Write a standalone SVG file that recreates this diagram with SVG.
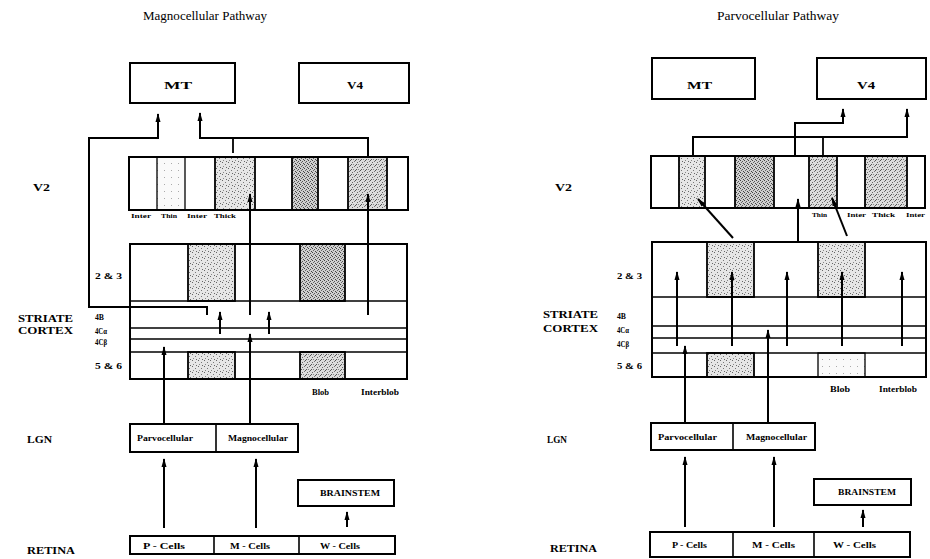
<svg xmlns="http://www.w3.org/2000/svg" width="930" height="559" viewBox="0 0 930 559">
<defs>
<style>
.box{fill:#fff;stroke:#000;stroke-width:2}
.ln{fill:none;stroke:#000;stroke-width:1.6}
.ar{fill:none;stroke:#000;stroke-width:2;marker-end:url(#ah)}
.con{fill:none;stroke:#000;stroke-width:1.8}
.t{font-family:"Liberation Serif","Times New Roman",serif;fill:#000}
.title{font-size:13.5px}
.big{font-size:10.5px;font-weight:bold}
.sm{font-size:8px;font-weight:bold}
.xs{font-size:7px;font-weight:bold}
.bx{font-size:10.5px;font-weight:bold}
.lab{font-size:8px;font-weight:bold}
.light{fill:url(#dotL);stroke:#000;stroke-width:1.8}
.dark{fill:url(#dotD);stroke:#000;stroke-width:1.8}
.med{fill:url(#dotM);stroke:#000;stroke-width:1.8}
.faint{fill:url(#dotF);stroke:#000;stroke-width:1.3}
</style>
<pattern id="dotL" width="6" height="6" patternUnits="userSpaceOnUse">
<rect width="6" height="6" fill="#e6e6e6"/>
<rect x="0" y="0" width="1" height="1" fill="#666"/>
<rect x="3" y="2" width="1" height="1" fill="#777"/>
<rect x="1" y="4" width="1" height="1" fill="#888"/>
<rect x="4" y="5" width="1" height="1" fill="#666"/>
</pattern>
<pattern id="dotM" width="5" height="5" patternUnits="userSpaceOnUse">
<rect width="5" height="5" fill="#dcdcdc"/>
<rect x="0" y="0" width="1" height="1" fill="#555"/>
<rect x="2" y="2" width="1" height="1" fill="#666"/>
<rect x="4" y="1" width="1" height="1" fill="#777"/>
<rect x="1" y="4" width="1" height="1" fill="#555"/>
<rect x="3" y="4" width="1" height="1" fill="#888"/>
</pattern>
<pattern id="dotD" width="4" height="4" patternUnits="userSpaceOnUse">
<rect width="4" height="4" fill="#cfcfcf"/>
<rect x="0" y="0" width="1" height="1" fill="#444"/>
<rect x="2" y="1" width="1" height="1" fill="#555"/>
<rect x="1" y="2" width="1" height="1" fill="#666"/>
<rect x="3" y="3" width="1" height="1" fill="#444"/>
</pattern>
<pattern id="dotF" width="7" height="7" patternUnits="userSpaceOnUse">
<rect width="7" height="7" fill="#fafafa"/>
<rect x="3" y="2" width="1" height="1" fill="#aaa"/>
</pattern>
<marker id="ah" markerUnits="userSpaceOnUse" markerWidth="9" markerHeight="6" refX="8" refY="3" orient="auto">
<path d="M0,0.5 L9,3 L0,5.5 z" fill="#000"/>
</marker>
</defs>
<rect width="930" height="559" fill="#fff"/>

<!-- ================= LEFT: Magnocellular ================= -->
<g id="title-magno"><text class="t title" x="143" y="20" textLength="124" lengthAdjust="spacingAndGlyphs">Magnocellular Pathway</text></g>

<g id="row-labels-left">
<text class="t big" x="33" y="191" textLength="17" lengthAdjust="spacingAndGlyphs">V2</text>
<text class="t big" x="18" y="322" textLength="55" lengthAdjust="spacingAndGlyphs">STRIATE</text>
<text class="t big" x="18" y="334" textLength="55" lengthAdjust="spacingAndGlyphs">CORTEX</text>
<text class="t big" x="27" y="443" textLength="25" lengthAdjust="spacingAndGlyphs">LGN</text>
<text class="t big" x="27" y="554" textLength="48" lengthAdjust="spacingAndGlyphs">RETINA</text>
</g>

<g id="L-MT"><rect class="box" x="130" y="63" width="105" height="40"/><text class="t bx" x="164" y="89" textLength="28" lengthAdjust="spacingAndGlyphs">MT</text></g>
<g id="L-V4"><rect class="box" x="299" y="63" width="110" height="40"/><text class="t bx" x="347" y="89" textLength="16" lengthAdjust="spacingAndGlyphs">V4</text></g>

<g id="L-V2">
<rect class="box" x="129" y="157" width="279" height="53"/>
<rect class="faint" x="157" y="157" width="28" height="53"/>
<rect class="light" x="215" y="157" width="40" height="53"/>
<rect class="dark" x="292" y="157" width="26" height="53"/>
<rect class="med" x="348" y="157" width="39" height="53"/>
<rect x="129" y="157" width="279" height="53" fill="none" stroke="#000" stroke-width="2"/>
<text class="t xs" x="131" y="218" textLength="20" lengthAdjust="spacingAndGlyphs">Inter</text>
<text class="t xs" x="161" y="218" textLength="16" lengthAdjust="spacingAndGlyphs">Thin</text>
<text class="t xs" x="187" y="218" textLength="20" lengthAdjust="spacingAndGlyphs">Inter</text>
<text class="t xs" x="214" y="218" textLength="22" lengthAdjust="spacingAndGlyphs">Thick</text>
</g>

<g id="L-striate">
<rect class="box" x="130" y="244" width="277" height="135"/>
<rect class="light" x="188" y="244" width="47" height="57" stroke-width="2.2"/>
<rect class="dark" x="300" y="244" width="45" height="57" stroke-width="2.2"/>
<rect class="light" x="188" y="352" width="47" height="27"/>
<rect class="med" x="300" y="352" width="45" height="27"/>
<line class="ln" x1="130" y1="301" x2="407" y2="301"/>
<line class="ln" x1="130" y1="328" x2="407" y2="328"/>
<line class="ln" x1="130" y1="339" x2="407" y2="339"/>
<line class="ln" x1="130" y1="352" x2="407" y2="352"/>
<rect x="130" y="244" width="277" height="135" fill="none" stroke="#000" stroke-width="2"/>
<text class="t sm" x="95" y="279" textLength="27" lengthAdjust="spacingAndGlyphs">2 &amp; 3</text>
<text class="t sm" x="95" y="320" textLength="9" lengthAdjust="spacingAndGlyphs">4B</text>
<text class="t sm" x="95" y="334" textLength="12" lengthAdjust="spacingAndGlyphs">4Cα</text>
<text class="t sm" x="95" y="345" textLength="12" lengthAdjust="spacingAndGlyphs">4Cβ</text>
<text class="t sm" x="95" y="369" textLength="27" lengthAdjust="spacingAndGlyphs">5 &amp; 6</text>
<text class="t sm" x="312" y="395" textLength="17" lengthAdjust="spacingAndGlyphs">Blob</text>
<text class="t sm" x="361" y="395" textLength="38" lengthAdjust="spacingAndGlyphs">Interblob</text>
</g>

<g id="L-LGN">
<rect class="box" x="130" y="424" width="168" height="28"/>
<line class="ln" x1="216" y1="424" x2="216" y2="452"/>
<text class="t sm" x="137" y="441" textLength="56" lengthAdjust="spacingAndGlyphs">Parvocellular</text>
<text class="t sm" x="228" y="441" textLength="60" lengthAdjust="spacingAndGlyphs">Magnocellular</text>
</g>

<g id="L-brainstem"><rect class="box" x="298" y="480" width="96" height="26"/><text class="t lab" x="320" y="496" textLength="60" lengthAdjust="spacingAndGlyphs">BRAINSTEM</text></g>

<g id="L-retina">
<rect class="box" x="130" y="536" width="265" height="18"/>
<line class="ln" x1="214" y1="536" x2="214" y2="554"/>
<line class="ln" x1="299" y1="536" x2="299" y2="554"/>
<text class="t lab" x="143" y="549" textLength="42" lengthAdjust="spacingAndGlyphs">P - Cells</text>
<text class="t lab" x="230" y="549" textLength="40" lengthAdjust="spacingAndGlyphs">M - Cells</text>
<text class="t lab" x="320" y="549" textLength="40" lengthAdjust="spacingAndGlyphs">W - Cells</text>
</g>

<!-- ================= RIGHT: Parvocellular ================= -->
<g id="title-parvo"><text class="t title" x="717" y="20" textLength="122" lengthAdjust="spacingAndGlyphs">Parvocellular Pathway</text></g>

<g id="row-labels-right">
<text class="t big" x="555" y="191" textLength="17" lengthAdjust="spacingAndGlyphs">V2</text>
<text class="t big" x="543" y="318" textLength="55" lengthAdjust="spacingAndGlyphs">STRIATE</text>
<text class="t big" x="543" y="332" textLength="55" lengthAdjust="spacingAndGlyphs">CORTEX</text>
<text class="t big" x="547" y="443" textLength="20" lengthAdjust="spacingAndGlyphs">LGN</text>
<text class="t big" x="550" y="552" textLength="47" lengthAdjust="spacingAndGlyphs">RETINA</text>
</g>

<g id="R-MT"><rect class="box" x="652" y="58" width="103" height="41"/><text class="t bx" x="687" y="89" textLength="25" lengthAdjust="spacingAndGlyphs">MT</text></g>
<g id="R-V4"><rect class="box" x="817" y="58" width="109" height="41"/><text class="t bx" x="857" y="89" textLength="18" lengthAdjust="spacingAndGlyphs">V4</text></g>

<g id="R-V2">
<rect class="box" x="651" y="156" width="274" height="52"/>
<rect class="light" x="679" y="156" width="26" height="52"/>
<rect class="dark" x="735" y="156" width="39" height="52"/>
<rect class="med" x="809" y="156" width="28" height="52"/>
<rect class="med" x="865" y="156" width="42" height="52"/>
<rect x="651" y="156" width="274" height="52" fill="none" stroke="#000" stroke-width="2"/>
<text class="t xs" x="812" y="217" textLength="15" lengthAdjust="spacingAndGlyphs">Thin</text>
<text class="t xs" x="847" y="217" textLength="19" lengthAdjust="spacingAndGlyphs">Inter</text>
<text class="t xs" x="872" y="217" textLength="23" lengthAdjust="spacingAndGlyphs">Thick</text>
<text class="t xs" x="906" y="217" textLength="19" lengthAdjust="spacingAndGlyphs">Inter</text>
</g>

<g id="R-striate">
<rect class="box" x="652" y="242" width="274" height="135"/>
<rect class="light" x="707" y="242" width="47" height="55" stroke-width="2.2"/>
<rect class="light" x="818" y="242" width="47" height="55" stroke-width="2.2"/>
<rect class="light" x="707" y="353" width="47" height="24"/>
<rect class="faint" x="818" y="353" width="47" height="24" stroke-width="1.8"/>
<line class="ln" x1="652" y1="297" x2="926" y2="297"/>
<line class="ln" x1="652" y1="326" x2="926" y2="326"/>
<line class="ln" x1="652" y1="338" x2="926" y2="338"/>
<line class="ln" x1="652" y1="353" x2="926" y2="353"/>
<rect x="652" y="242" width="274" height="135" fill="none" stroke="#000" stroke-width="2"/>
<text class="t sm" x="617" y="279" textLength="25" lengthAdjust="spacingAndGlyphs">2 &amp; 3</text>
<text class="t sm" x="617" y="319" textLength="9" lengthAdjust="spacingAndGlyphs">4B</text>
<text class="t sm" x="617" y="333" textLength="12" lengthAdjust="spacingAndGlyphs">4Cα</text>
<text class="t sm" x="617" y="347" textLength="12" lengthAdjust="spacingAndGlyphs">4Cβ</text>
<text class="t sm" x="617" y="369" textLength="25" lengthAdjust="spacingAndGlyphs">5 &amp; 6</text>
<text class="t sm" x="830" y="392" textLength="20" lengthAdjust="spacingAndGlyphs">Blob</text>
<text class="t sm" x="879" y="392" textLength="38" lengthAdjust="spacingAndGlyphs">Interblob</text>
</g>

<g id="R-LGN">
<rect class="box" x="651" y="423" width="164" height="27"/>
<line class="ln" x1="733" y1="423" x2="733" y2="450"/>
<text class="t sm" x="658" y="440" textLength="59" lengthAdjust="spacingAndGlyphs">Parvocellular</text>
<text class="t sm" x="746" y="440" textLength="61" lengthAdjust="spacingAndGlyphs">Magnocellular</text>
</g>

<g id="R-brainstem"><rect class="box" x="814" y="479" width="97" height="26"/><text class="t lab" x="838" y="495" textLength="58" lengthAdjust="spacingAndGlyphs">BRAINSTEM</text></g>

<g id="R-retina">
<rect class="box" x="650" y="532" width="260" height="25"/>
<line class="ln" x1="733" y1="532" x2="733" y2="557"/>
<line class="ln" x1="814" y1="532" x2="814" y2="557"/>
<text class="t lab" x="672" y="548" textLength="35" lengthAdjust="spacingAndGlyphs">P - Cells</text>
<text class="t lab" x="752" y="548" textLength="43" lengthAdjust="spacingAndGlyphs">M - Cells</text>
<text class="t lab" x="833" y="548" textLength="43" lengthAdjust="spacingAndGlyphs">W - Cells</text>
</g>

<!-- ================= CONNECTORS ================= -->
<g id="connectors">
<polyline class="ar" points="207,315 207,307 89,307 89,138 158,138 158,114"/>
<polyline class="ar" points="368,157 368,138 200,138 200,113"/>
<line class="con" x1="233" y1="138" x2="233" y2="153"/>
<line class="ar" x1="250" y1="315" x2="250" y2="194"/>
<line class="ar" x1="368" y1="315" x2="368" y2="194"/>
<line class="ar" x1="220" y1="334" x2="220" y2="312"/>
<line class="ar" x1="269" y1="334" x2="269" y2="312"/>
<line class="ar" x1="250" y1="424" x2="250" y2="334"/>
<line class="ar" x1="164" y1="424" x2="164" y2="347"/>
<line class="ar" x1="164" y1="528" x2="164" y2="459"/>
<line class="ar" x1="256" y1="528" x2="256" y2="459"/>
<line class="ar" x1="347" y1="527" x2="347" y2="512"/>
<polyline class="ar" points="693,156 693,137 907,137 907,109"/>
<line class="con" x1="823" y1="137" x2="823" y2="155"/>
<polyline class="ar" points="795,156 795,123 843,123 843,109"/>
<line class="ar" x1="733" y1="238" x2="698" y2="199"/>
<line class="ar" x1="798" y1="242" x2="798" y2="199"/>
<line class="ar" x1="847" y1="236" x2="832" y2="198"/>
<line class="ar" x1="677" y1="346" x2="677" y2="272"/>
<line class="ar" x1="732" y1="346" x2="732" y2="272"/>
<line class="ar" x1="787" y1="346" x2="787" y2="272"/>
<line class="ar" x1="842" y1="346" x2="842" y2="272"/>
<line class="ar" x1="902" y1="346" x2="902" y2="272"/>
<line class="ar" x1="685" y1="423" x2="685" y2="346"/>
<line class="ar" x1="768" y1="423" x2="768" y2="330"/>
<line class="ar" x1="685" y1="527" x2="685" y2="457"/>
<line class="ar" x1="774" y1="527" x2="774" y2="457"/>
<line class="ar" x1="863" y1="527" x2="863" y2="510"/>
</g>
</svg>
